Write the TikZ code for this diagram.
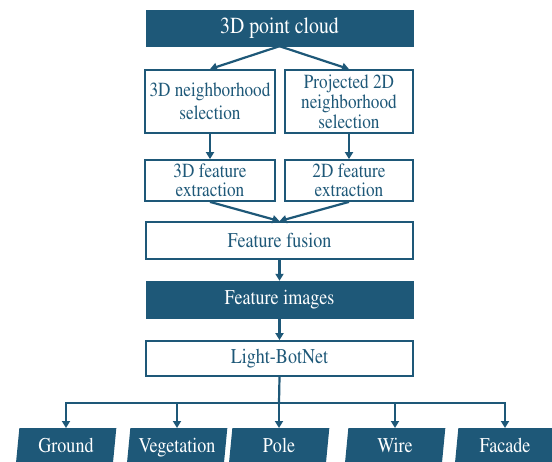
\documentclass[tikz,border=0pt]{standalone}
\usepackage[T1]{fontenc}
\usepackage{mathptmx}
\usepackage{tikz}
\usetikzlibrary{arrows.meta,shapes.geometric}
\definecolor{flowblue}{RGB}{30,88,120}
\tikzset{
  >={Triangle[width=8pt,length=7pt]},
  narrow/.style={xscale=0.86},
  darkbox/.style={narrow,rectangle,fill=flowblue,draw=flowblue,text=white,inner sep=0pt,
    minimum width=310pt},
  linebox/.style={narrow,rectangle,draw=flowblue,line width=1.8pt,text=flowblue,align=center,inner sep=0pt},
  classbox/.style={narrow,trapezium,trapezium left angle=78,trapezium right angle=102,
    trapezium stretches body,fill=flowblue,text=white,inner sep=0pt,
    text height=15pt,text depth=5pt,
    minimum width=117pt,minimum height=38pt,anchor=north,font=\fontsize{21}{21}\selectfont},
  flow/.style={draw=flowblue,line width=2.2pt}
}

\begin{document}
\begin{tikzpicture}[x=1pt,y=-1pt]
      \useasboundingbox (0,0) rectangle (552,461); % page
      \node[darkbox,minimum height=36pt,font=\fontsize{23}{23}\selectfont] (cloud) at (279.5,28) {3D point cloud}; % input
      \node[linebox,minimum width=151pt,minimum height=63pt,font=\fontsize{20}{23}\selectfont] (nb3d) at (210,101.5) {3D neighborhood\\selection}; % left branch
      \node[linebox,minimum width=149pt,minimum height=63pt,font=\fontsize{20}{20}\selectfont] (nb2d) at (349,101.5) {Projected 2D\\neighborhood\\selection}; % right branch
      \node[linebox,minimum width=151pt,minimum height=41pt,font=\fontsize{20}{19}\selectfont] (fe3d) at (210,180.5) {3D feature\\extraction};
      \node[linebox,minimum width=149pt,minimum height=41pt,font=\fontsize{20}{19}\selectfont] (fe2d) at (349,180.5) {2D feature\\extraction};
      \node[linebox,minimum width=310pt,minimum height=37pt,font=\fontsize{21}{21}\selectfont] (fusion) at (279.5,240.5) {Feature fusion};
      \node[darkbox,minimum height=37pt,font=\fontsize{21}{21}\selectfont] (images) at (279.5,299.5) {Feature images};
      \node[linebox,minimum width=310pt,minimum height=35pt,font=\fontsize{21}{21}\selectfont] (botnet) at (279.5,358.5) {Light-BotNet};
      \coordinate (bus) at (279,403); % split point
      % classes
      \node[classbox] (ground) at (66,428) {Ground};
      \node[classbox] (veg) at (177,428) {Vegetation};
      \node[classbox] (pole) at (279,428) {Pole};
      \node[classbox] (wire) at (395,428) {Wire};
      \node[classbox] (facade) at (505,428) {Facade};
      % Wiring
      \draw[flow,->] (cloud.south) -- (nb3d.north);
      \draw[flow,->] (cloud.south) -- (nb2d.north);
      \draw[flow,->] (nb3d.south) -- (fe3d.north);
      \draw[flow,->] (nb2d.south) -- (fe2d.north);
      \draw[flow,->] (fe3d.south) -- (fusion.north);
      \draw[flow,->] (fe2d.south) -- (fusion.north);
      \draw[flow,->] (fusion.south) -- (images.north);
      \draw[flow,->] (images.south) -- (botnet.north);
      \draw[flow] (botnet.south) -- (bus);
      \foreach \c in {ground,veg,pole,wire,facade}
        \draw[flow,->] (bus) -| (\c.north);
\end{tikzpicture}
\end{document}
